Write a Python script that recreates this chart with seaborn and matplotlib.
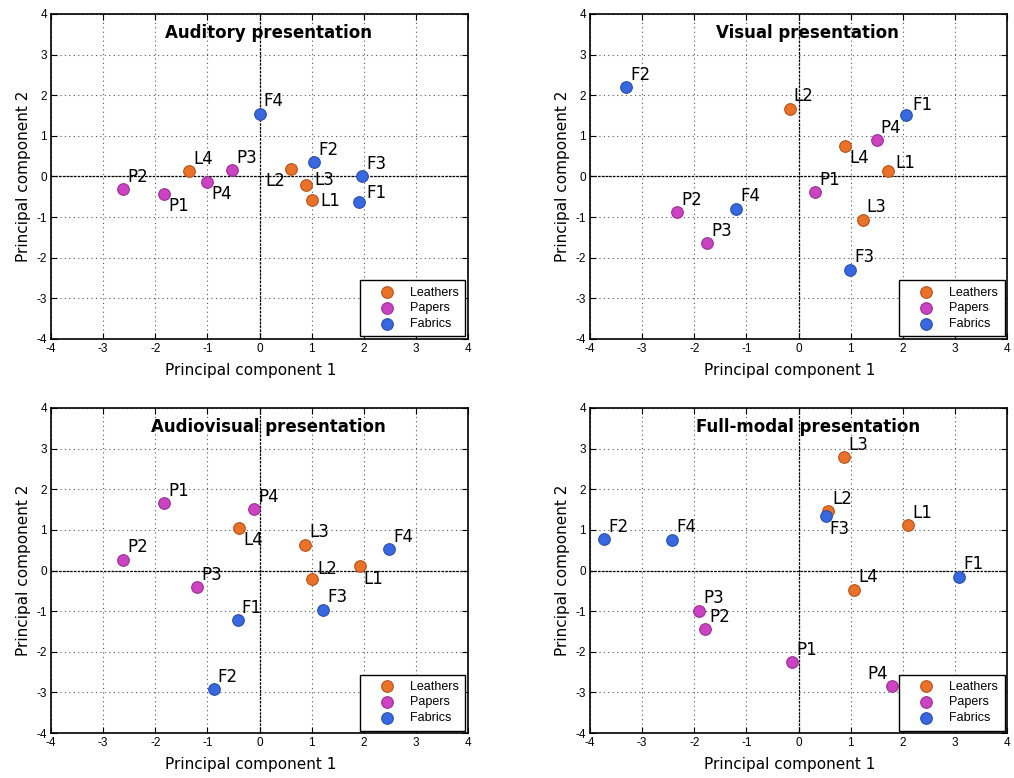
import numpy as np
import pandas as pd
import matplotlib
matplotlib.use("Agg")
import matplotlib.pyplot as plt
import seaborn as sns

sns.set_theme(style="white")
plt.rcParams["font.family"] = ["DejaVu Sans"]
plt.rcParams["text.color"] = "black"
plt.rcParams["axes.labelcolor"] = "black"

# Stimulus names and material groups
names = ["L1", "L2", "L3", "L4", "P1", "P2", "P3", "P4", "F1", "F2", "F3", "F4"]
groups = ["Leathers"] * 4 + ["Papers"] * 4 + ["Fabrics"] * 4

# PCA coordinates per presentation condition (PC1, PC2), same order as names
auditory_pc1 = [1.00, 0.60, 0.89, -1.35, -1.83, -2.62, -0.52, -1.00, 1.91, 1.05, 1.97, 0.00]
auditory_pc2 = [-0.57, 0.19, -0.22, 0.13, -0.43, -0.31, 0.15, -0.13, -0.62, 0.35, 0.00, 1.54]

visual_pc1 = [1.72, -0.17, 1.23, 0.90, 0.32, -2.33, -1.76, 1.50, 2.07, -3.30, 0.99, -1.20]
visual_pc2 = [0.13, 1.67, -1.07, 0.76, -0.39, -0.88, -1.64, 0.89, 1.52, 2.20, -2.30, -0.79]

audiovisual_pc1 = [1.92, 1.00, 0.88, -0.39, -1.83, -2.62, -1.19, -0.10, -0.42, -0.88, 1.22, 2.48]
audiovisual_pc2 = [0.10, -0.20, 0.64, 1.05, 1.65, 0.26, -0.41, 1.51, -1.23, -2.92, -0.97, 0.52]

fullmodal_pc1 = [2.11, 0.57, 0.87, 1.06, -0.13, -1.79, -1.91, 1.79, 3.08, -3.73, 0.52, -2.42]
fullmodal_pc2 = [1.11, 1.46, 2.79, -0.47, -2.26, -1.45, -0.99, -2.85, -0.15, 0.77, 1.34, 0.76]

titles = ["Auditory presentation", "Visual presentation",
          "Audiovisual presentation", "Full-modal presentation"]
tick_values = [-4, -3, -2, -1, 0, 1, 2, 3, 4]

# Label placement around each marker (offset in points)
UR, LR, LL, UL = (3, 9), (3, -9), (-4, -9), (-3, 9)
label_offsets = [
    {"L1": (6, -1), "L2": LL, "L3": (6, 4), "L4": UR, "P1": LR, "P2": UR, "P3": UR,
     "P4": LR, "F1": (5, 6), "F2": UR, "F3": UR, "F4": UR},
    {"L1": (5, 6), "L2": UR, "L3": UR, "L4": LR, "P1": UR, "P2": UR, "P3": UR,
     "P4": UR, "F1": (4, 7), "F2": UR, "F3": UR, "F4": UR},
    {"L1": LR, "L2": (4, 7), "L3": UR, "L4": LR, "P1": UR, "P2": UR, "P3": UR,
     "P4": UR, "F1": UR, "F2": UR, "F3": UR, "F4": UR},
    {"L1": UR, "L2": UR, "L3": UR, "L4": UR, "P1": UR, "P2": UR, "P3": UR,
     "P4": UL, "F1": UR, "F2": UR, "F3": LR, "F4": UR},
]

palette = {"Leathers": "#EA7128", "Papers": "#CC43C2", "Fabrics": "#3868E0"}
edges = {"Leathers": "#B8501A", "Papers": "#9A2F94", "Fabrics": "#2A4FB0"}

frames = []
for title, x, y in zip(titles,
                       [auditory_pc1, visual_pc1, audiovisual_pc1, fullmodal_pc1],
                       [auditory_pc2, visual_pc2, audiovisual_pc2, fullmodal_pc2]):
    frames.append(pd.DataFrame({"name": names, "group": groups, "pc1": x, "pc2": y,
                                "condition": title}))
data = pd.concat(frames, ignore_index=True)

fig = plt.figure(figsize=(10.14, 7.78), dpi=100)
W, H = 1014, 778
boxes = [(51, 14), (590, 14), (51, 408), (590, 408)]
aw, ah = 417, 325

for i, title in enumerate(titles):
    left, top = boxes[i]
    ax = fig.add_axes([left / W, 1 - (top + ah) / H, aw / W, ah / H])
    sub = data[data["condition"] == title]

    ax.grid(True, linestyle=(0, (1, 3)), color="#555555", linewidth=0.8)
    ax.axhline(0, color="black", linestyle=(0, (2, 1)), linewidth=0.9, zorder=1)
    ax.axvline(0, color="black", linestyle=(0, (2, 1)), linewidth=0.9, zorder=1)

    for grp in ["Leathers", "Papers", "Fabrics"]:
        g = sub[sub["group"] == grp]
        sns.scatterplot(data=g, x="pc1", y="pc2", ax=ax, color=palette[grp],
                        edgecolor=edges[grp], linewidth=0.8, s=70, label=grp,
                        zorder=3)

    offs = label_offsets[i]
    for _, row in sub.iterrows():
        dx, dy = offs[row["name"]]
        ax.annotate(row["name"], (row["pc1"], row["pc2"]), xytext=(dx, dy),
                    textcoords="offset points", ha="left" if dx >= 0 else "right",
                    va="center", fontsize=12, color="black", zorder=4)

    ax.set_xlim(-4, 4)
    ax.set_ylim(-4, 4)
    ax.set_xticks(tick_values)
    ax.set_yticks(tick_values)
    ax.set_xticklabels([str(v) for v in tick_values], family="Liberation Sans", fontsize=8.5)
    ax.set_yticklabels([str(v) for v in tick_values], family="Liberation Sans", fontsize=8.5)
    ax.tick_params(direction="in", length=4, width=0.8, top=True, right=True,
                   bottom=True, left=True, colors="black", pad=3)
    ax.set_xlabel("Principal component 1", fontsize=11, labelpad=6, x=0.478)
    ax.set_ylabel("Principal component 2", fontsize=11, labelpad=4)
    for sp in ax.spines.values():
        sp.set_color("black")
        sp.set_linewidth(1.2)
        sp.set_visible(True)

    ax.text(0.522, 0.942, title, transform=ax.transAxes, ha="center", va="center",
            fontsize=12, fontweight="bold", color="black", zorder=5)

    leg = ax.legend(loc="lower right", frameon=True, fancybox=False, framealpha=1,
                    edgecolor="black", prop={"family": "Liberation Sans", "size": 9},
                    borderaxespad=0.2, handletextpad=0.3, handlelength=3.2,
                    labelspacing=0.3, borderpad=0.5, markerscale=1.0)
    leg.get_frame().set_linewidth(1.0)
    for t in leg.get_texts():
        t.set_color("black")

fig.savefig("out.png", dpi=100)
